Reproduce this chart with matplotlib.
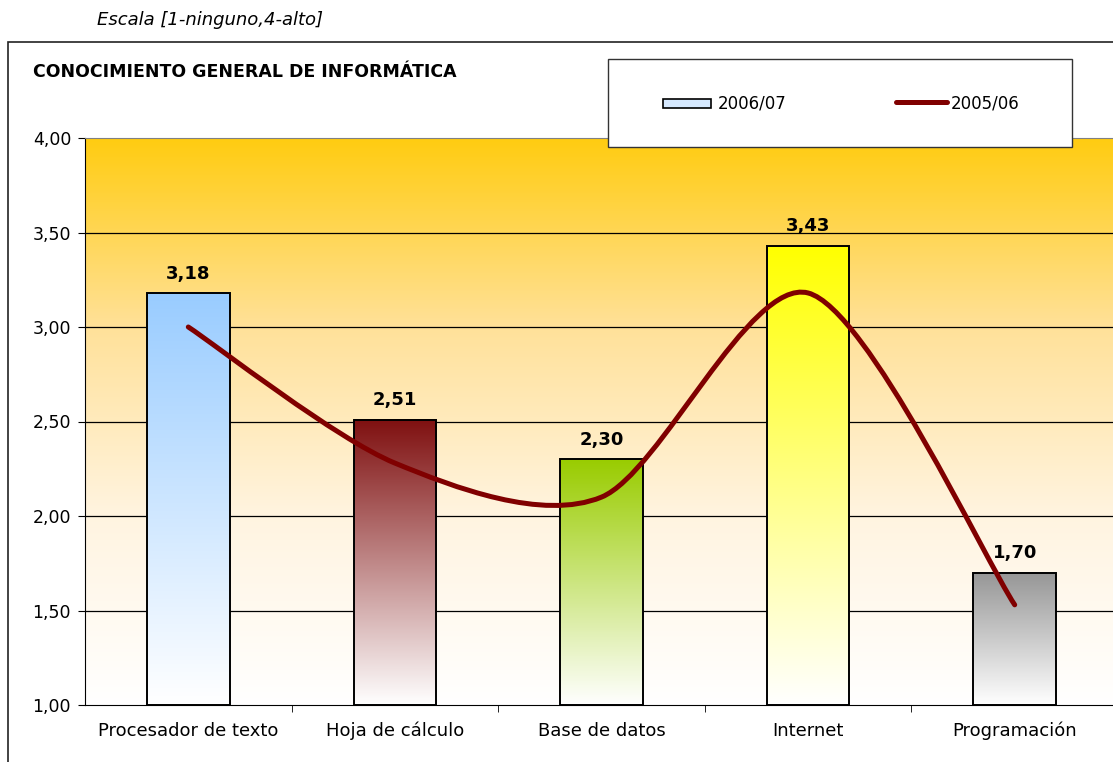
import numpy as np
import matplotlib.pyplot as plt
from matplotlib.path import Path
from matplotlib.patches import PathPatch, Rectangle
from matplotlib.lines import Line2D
from matplotlib.colors import LinearSegmentedColormap
from matplotlib.ticker import FixedLocator, FuncFormatter

# data
categories = ['Procesador de texto', 'Hoja de cálculo', 'Base de datos', 'Internet', 'Programación']
values_0607 = [3.18, 2.51, 2.30, 3.43, 1.70]
values_0506 = [3.00, 2.28, 2.10, 3.18, 1.53]
bar_colors = ['#99CCFF', '#7F1010', '#99CC00', '#FFFF00', '#969696']

W, H = 1113, 762
fig = plt.figure(figsize=(W / 100, H / 100), dpi=100)
plt.rcParams['font.family'] = 'DejaVu Sans'

def fx(px):
    return px / W

def fy(py):
    return 1 - py / H

# outer chart border (runs off the right/bottom edge)
fig.patches.append(Rectangle((fx(8), fy(790)), fx(1200), fy(42) - fy(790),
                             transform=fig.transFigure, fill=False,
                             edgecolor='#222222', linewidth=1.2))

ax = fig.add_axes([fx(85), fy(705), fx(1118) - fx(85), fy(138) - fy(705)])
ax.set_xlim(-0.5, len(categories) - 0.5)
ax.set_ylim(1, 4)

# background gradient
bg = LinearSegmentedColormap.from_list('bg', ['#FFFFFF', '#FFF4E0', '#FFE199', '#FFCC11'])
grad = np.linspace(0, 1, 256).reshape(-1, 1)
ax.imshow(grad, cmap=bg, aspect='auto', origin='lower',
          extent=[-0.5, len(categories) - 0.5, 1, 4], zorder=0)

# grid
for y in [1.5, 2.0, 2.5, 3.0, 3.5]:
    ax.axhline(y, color='black', linewidth=0.9, zorder=1)

# bars with vertical gradient (color at top, white at bottom)
bw = 0.4
for i, (v, c) in enumerate(zip(values_0607, bar_colors)):
    cmap = LinearSegmentedColormap.from_list('b%d' % i, ['#FFFFFF', c])
    ax.imshow(grad, cmap=cmap, aspect='auto', origin='lower',
              extent=[i - bw / 2, i + bw / 2, 1, v], zorder=2)
    rect = Rectangle((i - bw / 2, 1), bw, v - 1, fill=False,
                     edgecolor='black', linewidth=1.4, zorder=3)
    ax.add_patch(rect)
    ax.text(i, v + 0.055, ('%.2f' % v).replace('.', ','), ha='center', va='bottom',
            fontsize=13, fontweight='bold', zorder=5)

# smoothed line (cardinal bezier through the points)
xs = np.arange(len(values_0506), dtype=float)
ys = np.array(values_0506, dtype=float)
pts = np.column_stack([xs, ys])
tension = 1 / 7
verts = [pts[0]]
codes = [Path.MOVETO]
for k in range(len(pts) - 1):
    p0 = pts[k - 1] if k > 0 else pts[k]
    p1 = pts[k]
    p2 = pts[k + 1]
    p3 = pts[k + 2] if k + 2 < len(pts) else pts[k + 1]
    c1 = p1 + (p2 - p0) * tension
    c2 = p2 - (p3 - p1) * tension
    verts += [c1, c2, p2]
    codes += [Path.CURVE4] * 3
ax.add_patch(PathPatch(Path(verts, codes), fill=False, edgecolor='#800000',
                       linewidth=3.6, capstyle='round', joinstyle='round', zorder=4))

# axes styling
ax.spines['right'].set_visible(False)
ax.spines['top'].set_color('#808080')
ax.spines['left'].set_color('black')
ax.spines['bottom'].set_color('black')

ax.yaxis.set_major_locator(FixedLocator([1.0, 1.5, 2.0, 2.5, 3.0, 3.5, 4.0]))
ax.yaxis.set_major_formatter(FuncFormatter(lambda v, p: ('%.2f' % v).replace('.', ',')))
ax.tick_params(axis='y', direction='out', length=5, labelsize=12.5, pad=5)

ax.set_xticks(range(len(categories)))
ax.set_xticklabels(categories)
ax.set_xticks(np.arange(0.5, len(categories) - 0.5), minor=True)
ax.tick_params(axis='x', which='major', length=0, labelsize=13, pad=12)
ax.tick_params(axis='x', which='minor', direction='out', length=5)

# legend box
fig.patches.append(Rectangle((fx(608), fy(147)), fx(1072) - fx(608), fy(59) - fy(147),
                             transform=fig.transFigure, facecolor='white',
                             edgecolor='#333333', linewidth=1.0, zorder=10))
fig.patches.append(Rectangle((fx(663), fy(108)), fx(711) - fx(663), fy(99) - fy(108),
                             transform=fig.transFigure, facecolor='#D6E9FF',
                             edgecolor='black', linewidth=1.2, zorder=11))
fig.text(fx(718), fy(104), '2006/07', ha='left', va='center', fontsize=12, zorder=12)
fig.lines.append(Line2D([fx(896), fx(947)], [fy(102), fy(102)], transform=fig.transFigure,
                        color='#800000', linewidth=3.6, solid_capstyle='round', zorder=11))
fig.text(fx(951), fy(104), '2005/06', ha='left', va='center', fontsize=12, zorder=12)

# titles
fig.text(fx(33), fy(72), 'CONOCIMIENTO GENERAL DE INFORMÁTICA', ha='left', va='center',
         fontsize=12.5, fontweight='bold')
fig.text(fx(97), fy(20), 'Escala [1-ninguno,4-alto]', ha='left', va='center',
         fontsize=13, fontstyle='italic')

fig.savefig('out.png', dpi=100)
